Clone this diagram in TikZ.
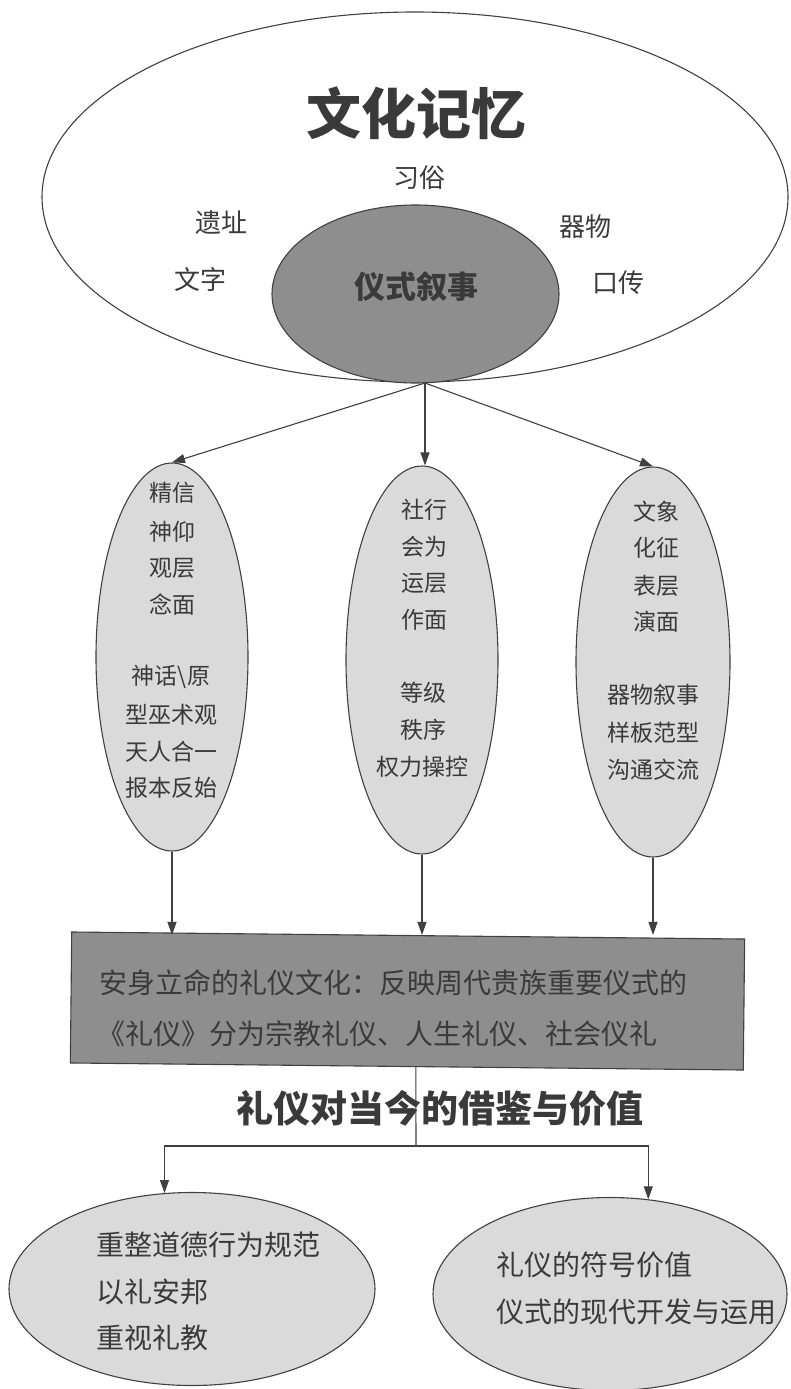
\documentclass[tikz,border=0pt]{standalone}
\usepackage{fontspec}
\setmainfont{Noto Sans CJK SC}
\usetikzlibrary{shapes.geometric,arrows.meta}
\definecolor{lightfill}{HTML}{DADADA}
\definecolor{darkfill}{HTML}{8E8E8E}
\definecolor{ink}{HTML}{3A3A3A}
\definecolor{edge}{HTML}{404040}
\tikzset{
  oval/.style={ellipse, draw=edge, line width=1.1pt, inner sep=0pt},
  lightoval/.style={oval, fill=lightfill},
  txt/.style={inner sep=0pt, text=ink, font=\fontsize{#1}{#1}\selectfont},
  arr/.style={draw=edge, line width=1.1pt, -{Triangle[length=13pt,width=9pt]}},
  plain/.style={draw=edge, line width=1.1pt},
}
\begin{document}
\begin{tikzpicture}[x=1pt,y=-1pt]
\useasboundingbox (0,0) rectangle (790,1389);
\fill[white] (0,0) rectangle (790,1389);
% top
\node[oval, fill=white, minimum width=746, minimum height=370] (mem) at (415,197) {};
\node[oval, fill=darkfill, minimum width=287, minimum height=178] (rit) at (415.5,294) {};
\node[txt=55, font=\fontsize{55}{55}\selectfont\bfseries] (t1) at (416,113) {文化记忆};
\node[txt=26] (t2) at (419,178) {习俗};
\node[txt=26] (t3) at (221,223) {遗址};
\node[txt=26] (t4) at (585,227) {器物};
\node[txt=26] (t5) at (200,280) {文字};
\node[txt=26] (t6) at (618,283) {口传};
\node[txt=31, font=\fontsize{31}{31}\selectfont\bfseries] (t7) at (416,287) {仪式叙事};
\coordinate (hub) at (425,383);
% three ovals
\node[lightoval, minimum width=152, minimum height=388] (e1) at (172,657) {};
\node[lightoval, minimum width=152, minimum height=388] (e2) at (422,660) {};
\node[lightoval, minimum width=154, minimum height=390] (e3) at (653,662) {};
\draw[arr] (hub) -- (e1.north);
\draw[arr] (hub) -- (hub |- e2.north);
\draw[arr] (hub) -- (e3.north);
% left text
\node[txt=23] at (172,493) {精信};
\node[txt=23] at (172,532) {神仰};
\node[txt=23] at (172,568) {观层};
\node[txt=23] at (172,605) {念面};
\node[txt=23] at (171,677) {神话\textbackslash 原};
\node[txt=23] at (171,715) {型巫术观};
\node[txt=23] at (171,752) {天人合一};
\node[txt=23] at (171,788) {报本反始};
% middle text
\node[txt=23] at (424,510) {社行};
\node[txt=23] at (424,547) {会为};
\node[txt=23] at (424,583) {运层};
\node[txt=23] at (424,620) {作面};
\node[txt=23] at (423,693) {等级};
\node[txt=23] at (423,730) {秩序};
\node[txt=23] at (422,767) {权力操控};
% right text
\node[txt=23] at (656,512) {文象};
\node[txt=23] at (656,548) {化征};
\node[txt=23] at (656,586) {表层};
\node[txt=23] at (656,622) {演面};
\node[txt=23] at (653,695) {器物叙事};
\node[txt=23] at (653,733) {样板范型};
\node[txt=23] at (653,770) {沟通交流};
% rectangle
\node[draw=edge, line width=1.1pt, fill=darkfill, minimum width=673, minimum height=131, rotate=-0.6, inner sep=0pt] (rect) at (407.5,1001) {};
\draw[arr] (e1.south) -- (e1.south |- rect.north);
\draw[arr] (e2.south) -- (e2.south |- rect.north);
\draw[arr] (e3.south) -- (e3.south |- rect.north);
\node[txt=28, anchor=west] (r1) at (99,983) {安身立命的礼仪文化：反映周代贵族重要仪式的};
\node[txt=28, anchor=west] (r2) at (97,1034) {《礼仪》分为宗教礼仪、人生礼仪、社会仪礼};
% heading
\node[txt=37, font=\fontsize{37}{37}\selectfont\bfseries] (head) at (440,1108) {礼仪对当今的借鉴与价值};
% bottom ovals
\node[lightoval, minimum width=366, minimum height=193] (b1) at (192,1289) {};
\node[lightoval, minimum width=354, minimum height=193] (b2) at (610,1294) {};
\coordinate (split) at (416,1146);
\draw[plain] ([xshift=9pt]rect.south) -- (split);
\draw[arr] (split) -| (b1.106);
\draw[arr] (split) -| (b2.68);
\node[txt=28, anchor=west] at (96,1245) {重整道德行为规范};
\node[txt=28, anchor=west] at (96,1292) {以礼安邦};
\node[txt=28, anchor=west] at (96,1338) {重视礼教};
\node[txt=28, anchor=west] at (496,1265) {礼仪的符号价值};
\node[txt=28, anchor=west] at (496,1312) {仪式的现代开发与运用};
\end{tikzpicture}
\end{document}
